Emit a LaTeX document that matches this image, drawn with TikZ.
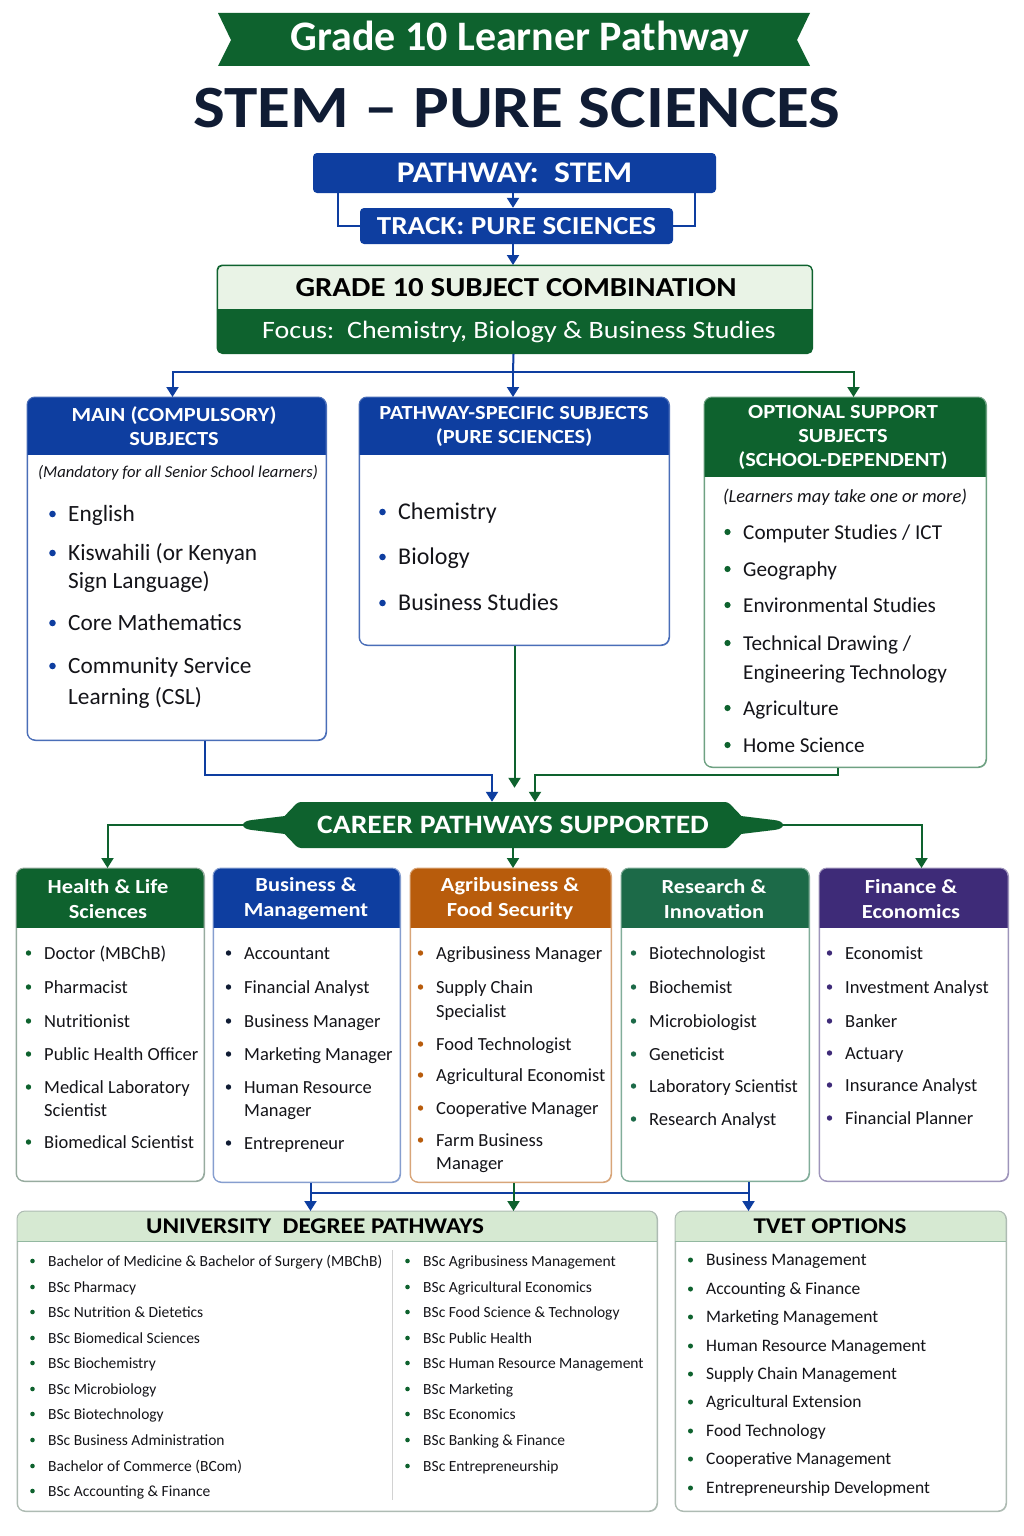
\documentclass[tikz,border=0pt]{standalone}
\usepackage{fontspec}
\setmainfont{Carlito}
\newfontfamily\wide[FakeStretch=1.12,Ligatures=TeX]{Carlito}
\usetikzlibrary{arrows.meta,calc}
\definecolor{cgreen}{RGB}{14,98,46}
\definecolor{cblue}{RGB}{14,62,160}
\definecolor{navy}{RGB}{16,28,52}
\definecolor{lightg}{RGB}{233,243,230}
\definecolor{unih}{RGB}{214,233,210}
\definecolor{corange}{RGB}{184,92,12}
\definecolor{cteal}{RGB}{28,106,72}
\definecolor{cpurple}{RGB}{62,43,120}
\definecolor{ink}{RGB}{20,20,25}
\newcommand\fs[1]{\fontsize{#1}{#1}\selectfont}
\newcommand\panel[8]{%
  \node[draw=#8, line width=1pt, rounded corners=8pt, fill=white, anchor=north west,
        inner sep=0pt, minimum width=#4pt-#2pt, minimum height=#5pt-#3pt] (#1) at (#2,#3) {};
  \begin{scope}\clip[rounded corners=8pt] (#2,#3) rectangle (#4,#5);
    \fill[#7] (#2,#3) rectangle (#4,#6);\end{scope}
  \draw[#8, line width=1pt, rounded corners=8pt] (#2,#3) rectangle (#4,#5);
}
\newcommand\blist[6]{%
  \foreach \yy/\bb/\txt [count=\nn] in {#6}{%
    \node[itm, font=\fs{#4}] (#1-\nn) at (#2,\yy+0.33*#4) {\txt};
    \ifnum\bb=1 \fill[#3] (#2-15.5,\yy) circle (#5pt);\fi
  }}
\tikzset{
  bconn/.style={draw=cblue, line width=2pt, -{Triangle[length=10pt,width=12pt]}},
  gconn/.style={draw=cgreen, line width=2pt, -{Triangle[length=10pt,width=12pt]}},
  bline/.style={draw=cblue, line width=2pt},
  gline/.style={draw=cgreen, line width=2pt},
  itm/.style={anchor=base west, inner sep=0pt, text=ink},
  hdr/.style={text=white, font=\wide\bfseries\fontsize{20}{24}\selectfont, align=center, inner sep=0pt},
  chdr/.style={text=white, font=\wide\bfseries\fontsize{20}{25}\selectfont, align=center, inner sep=0pt},
}
\begin{document}
\begin{tikzpicture}[x=1pt,y=-1pt]
\useasboundingbox (0,0) rectangle (1024,1536);
\fill[white] (0,0) rectangle (1024,1536);

% ---- title banner
\fill[cgreen] (218,13) -- (810,13) -- (797,40) -- (810,66) -- (218,66) -- (231,40) -- cycle;
\node[text=white, font=\bfseries\fs{42}] (banner) at (520,39) {Grade 10 Learner Pathway};
\node[text=navy, font=\wide\bfseries\fs{60}] (title) at (517,108) {STEM \textendash{} PURE SCIENCES};

% ---- pathway / track
\node[fill=cblue, rounded corners=4pt, minimum width=403pt, minimum height=40pt, inner sep=0pt,
      text=white, font=\wide\bfseries\fs{30}] (pw) at (514.5,173) {PATHWAY:\ \ STEM};
\node[fill=cblue, rounded corners=4pt, minimum width=313pt, minimum height=36pt, inner sep=0pt,
      text=white, font=\wide\bfseries\fs{26}] (tr) at (516.5,226) {TRACK: PURE SCIENCES};
\draw[bline, line width=1.5pt] ($(pw.south west)+(25,0)$) |- (tr.west);
\draw[bline, line width=1.5pt] ($(pw.south east)+(-21,0)$) |- (tr.east);
\draw[bconn] ($(pw.south)+(-1.5,0)$) -- ($(tr.north)+(-3.5,0)$);

% ---- grade box
\node[draw=cgreen, line width=1pt, rounded corners=5pt, fill=lightg, anchor=north west, inner sep=0pt,
      minimum width=595pt, minimum height=88pt] (grade) at (217,265) {};
\begin{scope}\clip[rounded corners=5pt] (217,265) rectangle (812,353);
  \fill[cgreen] (217,309) rectangle (812,353);\end{scope}
\draw[cgreen, line width=1pt, rounded corners=5pt] (217,265) rectangle (812,353);
\node[text=black, font=\wide\bfseries\fs{27.5}] (gradeT) at (516,288) {GRADE 10 SUBJECT COMBINATION};
\node[text=white, font=\wide\fs{25}] (gradeF) at (519,332) {Focus:\ \ Chemistry, Biology \& Business Studies};
\draw[bconn] ($(tr.south)+(-3.5,0)$) -- ($(tr.south |- grade.north)+(-3.5,0)$);

% ---- three subject panels
\panel{main}{27}{397}{326}{740}{455}{cblue}{cblue!75}
\panel{ps}{359}{397}{669}{645}{455}{cblue}{cblue!75}
\panel{opt}{704}{397}{986}{767}{477}{cgreen}{cgreen!60}
\node[hdr] (main-h) at (174,426) {MAIN (COMPULSORY)\\SUBJECTS};
\node[hdr] (ps-h) at (514,426) {PATHWAY-SPECIFIC SUBJECTS\\(PURE SCIENCES)};
\node[hdr] (opt-h) at (843,437) {OPTIONAL SUPPORT\\SUBJECTS\\(SCHOOL-DEPENDENT)};
\node[text=ink, font=\itshape\fs{16.6}] (main-s) at (178,473) {(Mandatory for all Senior School learners)};
\node[text=ink, font=\itshape\fs{18.5}] (opt-s) at (845,497) {(Learners may take one or more)};
\blist{ml}{68}{cblue}{23.3}{3.3}{514/1/English, 553/1/{Kiswahili (or Kenyan}, 581/0/{Sign Language)}, 623/1/Core Mathematics, 666/1/Community Service, 697/0/{Learning (CSL)}}
\blist{pl}{398}{cblue}{24}{3.3}{512/1/Chemistry, 557/1/Biology, 603/1/Business Studies}
\blist{ol}{743}{cgreen}{21.2}{3.1}{532/1/{Computer Studies / ICT}, 569/1/Geography, 605/1/Environmental Studies, 643/1/{Technical Drawing /}, 672/0/Engineering Technology, 708/1/Agriculture, 745/1/Home Science}

% grade -> panels
\coordinate (sp) at (513,372);
\draw[bline] ($(grade.south)+(-1.5,0)$) -- (sp);
\draw[bconn] (sp) -| ($(main.north)+(-4.5,0)$);
\draw[bconn] (sp) -- (sp |- ps.north);
\draw[bline] (sp) -- (800,372);
\draw[gconn] (800,372) -| ($(opt.north)+(8,0)$);

% ---- career banner
\node[minimum width=470pt, minimum height=46pt, inner sep=0pt] (career) at (513,825) {};
\fill[cgreen, rounded corners=3pt] (298,802) -- (728,802) -- (750,825) -- (728,848) -- (298,848) -- (276,825) -- cycle;
\fill[cgreen] (285,816) -- (252,820) .. controls (240,821) and (240,829) .. (252,830) -- (285,834) -- cycle;
\fill[cgreen] (741,816) -- (774,820) .. controls (786,821) and (786,829) .. (774,830) -- (741,834) -- cycle;
\node[text=white, font=\wide\bfseries\fs{26.5}] (careerT) at (513,825) {CAREER PATHWAYS SUPPORTED};
\coordinate (kl) at (244,825);
\coordinate (kr) at (782,825);

% panels -> career
\draw[bconn] ($(main.south)+(27.5,0)$) |- ($(career.north)+(-21,-27)$) -- ($(career.north)+(-21,0)$);
\draw[gconn] (ps.south) -- ($(ps.south |- career.north)+(0,-14)$);
\draw[gconn] ($(opt.south)+(-8,0)$) |- ($(career.north)+(22,-27)$) -- ($(career.north)+(22,0)$);

% ---- career panels
\panel{hl}{16}{868}{204}{1181}{928}{cgreen}{cgreen!40!gray!60}
\panel{bm}{213}{868}{400}{1182}{928}{cblue}{cblue!50}
\panel{ag}{410}{868}{611}{1182}{928}{corange}{corange!55}
\panel{ri}{621}{868}{809}{1181}{928}{cteal}{cteal!55}
\panel{fe}{819}{868}{1008}{1181}{928}{cpurple}{cpurple!50}
\node[chdr] (hl-h) at (108,899) {Health \& Life\\Sciences};
\node[chdr] (bm-h) at (306,899) {Business \&\\Management};
\node[chdr] (ag-h) at (510,899) {Agribusiness \&\\Food Security};
\node[chdr] (ri-h) at (714,899) {Research \&\\Innovation};
\node[chdr] (fe-h) at (911,899) {Finance \&\\Economics};
\blist{hli}{44}{cgreen}{18.5}{2.7}{953/1/{Doctor (MBChB)}, 987/1/Pharmacist, 1021/1/Nutritionist, 1054/1/Public Health Officer, 1087/1/Medical Laboratory, 1110/0/Scientist, 1142/1/Biomedical Scientist}
\blist{bmi}{244}{navy}{18.5}{2.7}{953/1/Accountant, 987/1/Financial Analyst, 1021/1/Business Manager, 1054/1/Marketing Manager, 1087/1/Human Resource, 1110/0/Manager, 1143/1/Entrepreneur}
\blist{agi}{436}{corange}{18.5}{2.7}{953/1/Agribusiness Manager, 987/1/Supply Chain, 1011/0/Specialist, 1044/1/Food Technologist, 1075/1/Agricultural Economist, 1108/1/Cooperative Manager, 1140/1/Farm Business, 1163/0/Manager}
\blist{rii}{649}{cteal}{18.5}{2.7}{953/1/Biotechnologist, 987/1/Biochemist, 1021/1/Microbiologist, 1054/1/Geneticist, 1086/1/Laboratory Scientist, 1119/1/Research Analyst}
\blist{fei}{845}{cpurple}{18.5}{2.7}{953/1/Economist, 987/1/Investment Analyst, 1021/1/Banker, 1053/1/Actuary, 1085/1/Insurance Analyst, 1118/1/Financial Planner}

% career -> panels
\draw[gconn] (kl) -| ($(hl.north)+(-3,0)$);
\draw[gconn] (kr) -| ($(fe.north)+(7.5,0)$);
\draw[gconn] (career.south) -- (career.south |- ag.north);

% ---- university & tvet
\panel{uni}{17}{1211}{657}{1511}{1241}{unih}{cgreen!30!gray!50}
\panel{tvet}{675}{1211}{1006}{1511}{1241}{unih}{cgreen!30!gray!50}
\draw[cgreen!45, line width=1pt] (17,1241) -- (657,1241);
\draw[cgreen!45, line width=1pt] (675,1241) -- (1006,1241);
\node[text=black, font=\wide\bfseries\fs{22.5}] (uni-h) at (315,1226) {UNIVERSITY\ \ DEGREE PATHWAYS};
\node[text=black, font=\wide\bfseries\fs{22.5}] (tvet-h) at (830,1226) {TVET OPTIONS};
\draw[gray!35, line width=0.8pt] (392,1250) -- (392,1500);
\blist{ul}{48}{cgreen}{15.5}{2.3}{1261/1/Bachelor of Medicine \& Bachelor of Surgery (MBChB), 1287/1/BSc Pharmacy, 1312/1/BSc Nutrition \& Dietetics, 1338/1/BSc Biomedical Sciences, 1363/1/BSc Biochemistry, 1389/1/BSc Microbiology, 1414/1/BSc Biotechnology, 1440/1/BSc Business Administration, 1466/1/Bachelor of Commerce (BCom), 1491/1/BSc Accounting \& Finance}
\blist{ur}{423}{cgreen}{15.5}{2.3}{1261/1/BSc Agribusiness Management, 1287/1/BSc Agricultural Economics, 1312/1/BSc Food Science \& Technology, 1338/1/BSc Public Health, 1363/1/BSc Human Resource Management, 1389/1/BSc Marketing, 1414/1/BSc Economics, 1440/1/BSc Banking \& Finance, 1466/1/BSc Entrepreneurship}
\blist{tv}{706}{cgreen}{17.5}{2.5}{1260/1/Business Management, 1289/1/Accounting \& Finance, 1317/1/Marketing Management, 1346/1/Human Resource Management, 1374/1/Supply Chain Management, 1402/1/Agricultural Extension, 1431/1/Food Technology, 1459/1/Cooperative Management, 1488/1/Entrepreneurship Development}

% career panels -> university / tvet
\coordinate (jb) at (310,1193);
\draw[bline] ($(bm.south)+(3.5,0)$) -- ($(bm.south |- jb)+(3.5,0)$) -- ($(ri.south |- jb)+(33,0)$);
\draw[bconn] ($(bm.south)+(3.5,0)$) -- ($(bm.south |- uni.north)+(3.5,0)$);
\draw[gconn] ($(ag.south)+(2.5,0)$) -- ($(ag.south |- uni.north)+(2.5,0)$);
\draw[bconn] ($(ri.south)+(33,0)$) -- ($(ri.south |- tvet.north)+(33,0)$);
\end{tikzpicture}
\end{document}
